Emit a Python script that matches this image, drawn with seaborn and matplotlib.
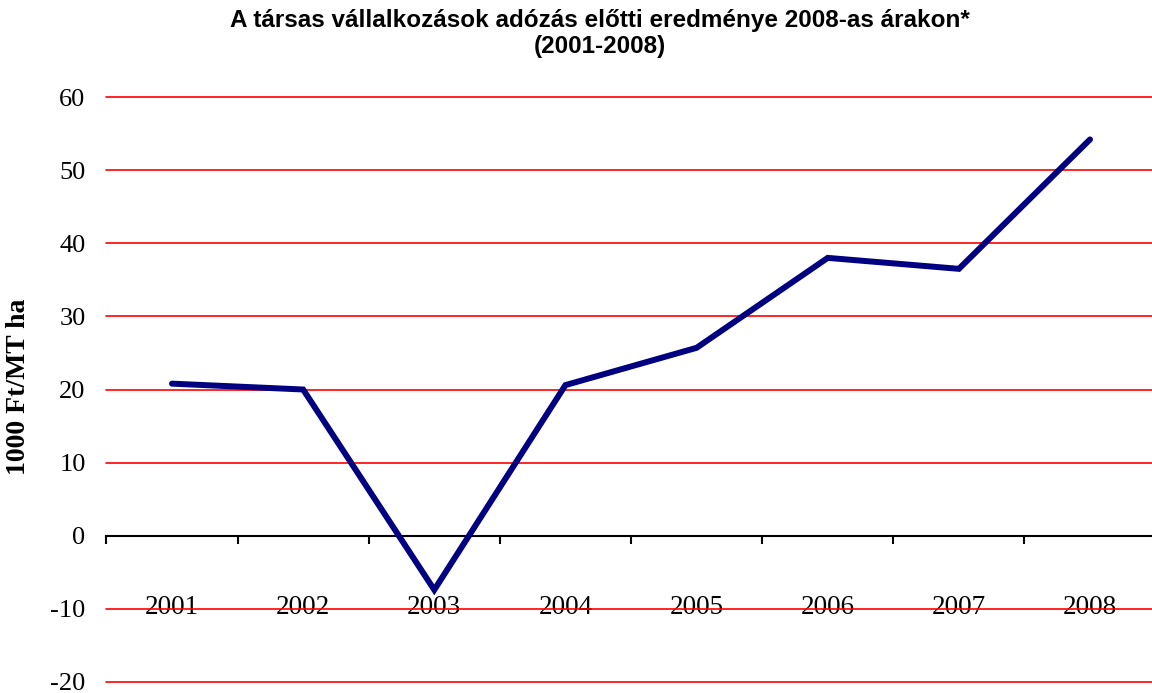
import matplotlib
matplotlib.use("Agg")
import matplotlib.pyplot as plt
import seaborn as sns
import pandas as pd
import numpy as np

years = ["2001", "2002", "2003", "2004", "2005", "2006", "2007", "2008"]
values = [20.8, 20.0, -7.4, 20.6, 25.7, 38.0, 36.5, 54.2]
yticks = [-20, -10, 0, 10, 20, 30, 40, 50, 60]

sns.set_theme(style="white")
plt.rcParams['font.family'] = ['Liberation Serif', 'DejaVu Serif']
plt.rcParams['text.color'] = 'black'
plt.rcParams['xtick.color'] = 'black'
plt.rcParams['ytick.color'] = 'black'
plt.rcParams['xtick.labelcolor'] = 'black'
plt.rcParams['ytick.labelcolor'] = 'black'

W, H = 1152, 693
fig = plt.figure(figsize=(W / 100, H / 100), dpi=100)
left, right, top, bottom = 106.4, 1155.6, 97, 682
ax = fig.add_axes([left / W, (H - bottom) / H, (right - left) / W, (bottom - top) / H])

df = pd.DataFrame({"pos": np.arange(len(years)), "value": values})
ax.set_xlim(-0.5, len(years) - 0.5)
ax.set_ylim(-20, 60)

for t in yticks:
    if t != 0:
        ax.axhline(t, color="#ff0000", lw=1.2, zorder=1, clip_on=False)

sns.lineplot(data=df, x="pos", y="value", ax=ax, color="#000080", lw=4.3,
             zorder=3, solid_capstyle="round", solid_joinstyle="miter")

for s in ["top", "right", "left"]:
    ax.spines[s].set_visible(False)
ax.spines["bottom"].set_position(("data", 0))
ax.spines["bottom"].set_color("black")
ax.spines["bottom"].set_linewidth(1.5)
ax.spines["bottom"].set_zorder(2)

ax.set_yticks(yticks)
ax.set_yticklabels([str(t) for t in yticks], fontsize=19)
ax.tick_params(axis="y", length=0, pad=15)

ax.set_xticks(np.arange(len(years)))
ax.set_xticklabels(years, fontsize=19.5)
ax.tick_params(axis="x", which="major", length=0, pad=42.5)
ax.set_xticks(np.arange(len(years) + 1) - 0.5, minor=True)
ax.tick_params(axis="x", which="minor", length=6, width=1.5, direction="out",
               color="black", bottom=True)
ax.set_xlabel("")
ax.set_ylabel("")
ax.grid(False)

fig.text(19 / W, 1 - 387 / H, "1000 Ft/MT ha", rotation=90, ha="center", va="center",
         fontsize=20, fontweight="bold", family=["Liberation Serif"])
fig.text(600 / W, 1 - 20 / H, "A társas vállalkozások adózás előtti eredménye 2008-as árakon*",
         ha="center", va="center", fontsize=17.5, fontweight="bold", family=["Liberation Sans"])
fig.text(600 / W, 1 - 47 / H, "(2001-2008)",
         ha="center", va="center", fontsize=17.5, fontweight="bold", family=["Liberation Sans"])

fig.savefig("out.png", dpi=100, facecolor="white")
